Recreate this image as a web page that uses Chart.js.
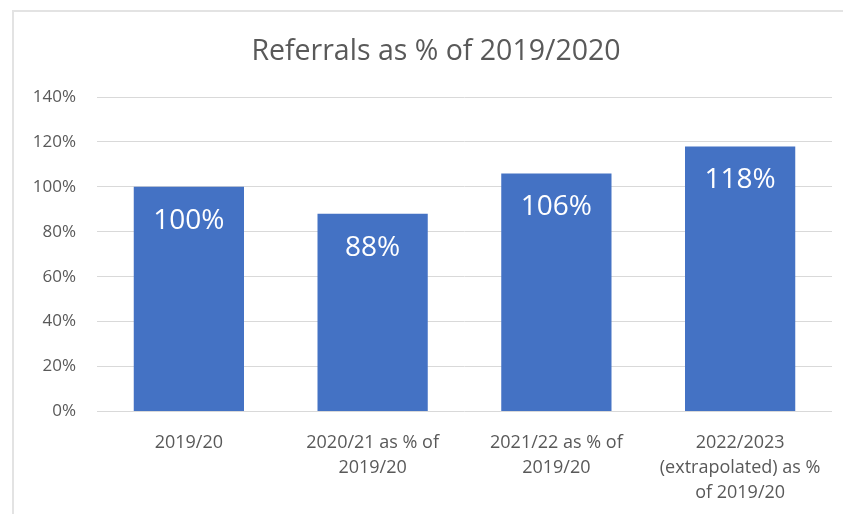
<!DOCTYPE html>
<html>
<head>
<meta charset="utf-8">
<title>Referrals as % of 2019/2020</title>
<script src="https://cdn.jsdelivr.net/npm/chart.js@4"></script>
<style>
	html, body {
		margin: 0;
		padding: 0;
		background: #fff;
		overflow: hidden;
		width: 843px;
		height: 514px;
	}
	/* chart frame runs off the right and bottom edge */
	.frame {
		position: absolute;
		left: 12px;
		top: 10px;
		width: 900px;
		height: 600px;
		border: 2px solid #e3e3e3;
	}
	.wrap {
		position: absolute;
		left: 12px;
		top: 0;
		width: 848px;
		height: 514px;
	}
</style>
</head>
<body>
<div class="frame"></div>
<div class="wrap"><canvas id="chart-referrals" width="848" height="514"></canvas></div>
<script>
// Utilities
const years = [
	['2019/20'],
	['2020/21 as % of', '2019/20'],
	['2021/22 as % of', '2019/20'],
	['2022/2023', '(extrapolated) as %', 'of 2019/20'],
];
const referrals = [100, 88, 106, 118]; // % of 2019/20
const yTicks = [0, 20, 40, 60, 80, 100, 120, 140];

const grey = '#595959';
const font = "'Open Sans', 'Liberation Sans', sans-serif";

// Writes the value inside the top of each bar
const barLabels = {
	id: 'barLabels',
	afterDatasetsDraw(chart) {
		const ctx = chart.ctx;
		const meta = chart.getDatasetMeta(0);
		ctx.save();
		ctx.fillStyle = '#ffffff';
		ctx.font = '28px ' + font;
		ctx.textAlign = 'center';
		ctx.textBaseline = 'middle';
		meta.data.forEach((bar, i) => {
			ctx.fillText(referrals[i] + '%', bar.x, bar.y + 34);
		});
		ctx.restore();
	},
};

// Centre the title over the whole frame, not over the padded area
const wideTitle = {
	id: 'wideTitle',
	afterLayout(chart) {
		if (chart.titleBlock) {
			chart.titleBlock.left = 0;
			chart.titleBlock.right = chart.width;
		}
	},
};

// Referrals chart
!(function () {
	const ctx = document.getElementById('chart-referrals');

	new Chart(ctx, {
		type: 'bar',
		data: {
			labels: years, // Chart x axis label
			datasets: [
				{
					label: 'Referrals',
					data: referrals,
					backgroundColor: '#4472C4',
					borderWidth: 0,
					barPercentage: 0.6,
					categoryPercentage: 1,
				},
			],
		},
		options: {
			responsive: false,
			animation: false,
			layout: {
				padding: { left: 0, right: 28, top: 0, bottom: 0 },
			},
			scales: {
				x: {
					grid: { display: false },
					border: { display: false },
					ticks: {
						color: grey,
						font: { family: font, size: 18, lineHeight: 1.38 },
						padding: 11,
						maxRotation: 0,
					},
					afterFit(scale) {
						scale.height = 102.5;
					},
				},
				y: {
					min: 0,
					max: 140,
					afterBuildTicks(scale) {
						scale.ticks = yTicks.map((v) => ({ value: v }));
					},
					grid: { color: '#d9d9d9', lineWidth: 1, drawTicks: false },
					border: { display: false },
					ticks: {
						color: grey,
						font: { family: font, size: 17 },
						padding: 21,
						callback: (v) => v + '%',
					},
					afterFit(scale) {
						scale.width = 85;
					},
				},
			},
			plugins: {
				legend: { display: false },
				tooltip: { enabled: false },
				title: {
					display: true,
					text: 'Referrals as % of 2019/2020',
					color: grey,
					font: { family: font, size: 28.5, weight: 'normal', lineHeight: 1.2 },
					padding: {
						top: 35,
						bottom: 27.8,
					},
				},
			},
		},
		plugins: [barLabels, wideTitle],
	});
})();
</script>
</body>
</html>
